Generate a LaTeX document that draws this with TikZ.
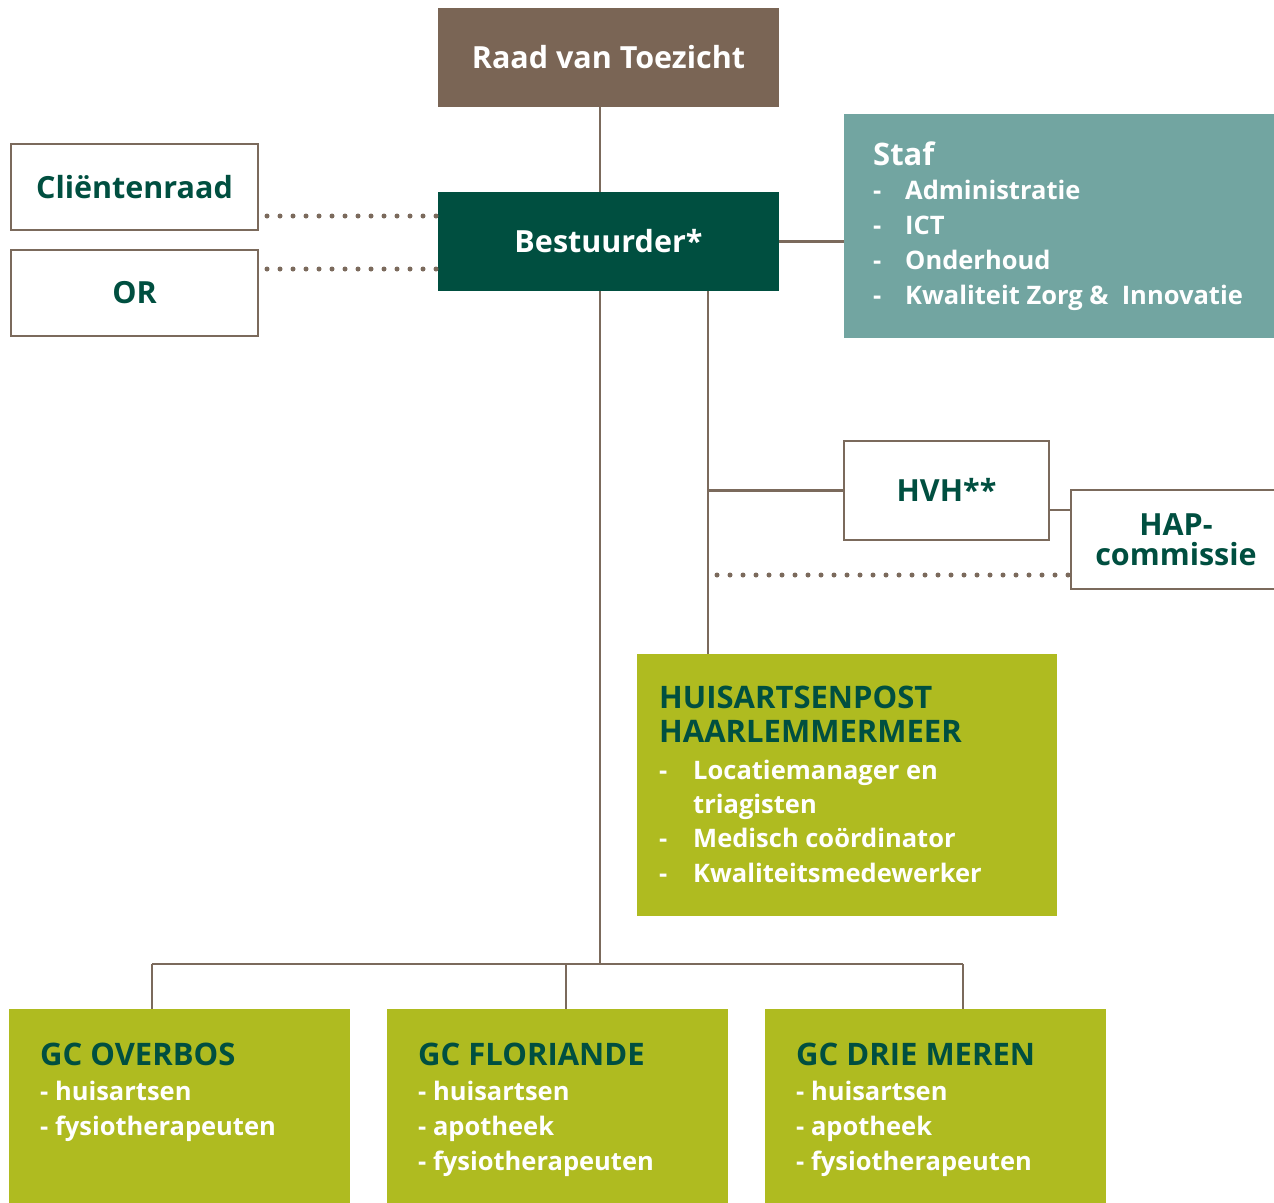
\documentclass[tikz,border=0pt]{standalone}
\usepackage{fontspec}
\setmainfont{Open Sans}
\definecolor{raadc}{HTML}{7A6555}
\definecolor{darkg}{HTML}{004F40}
\definecolor{tealc}{HTML}{72A5A1}
\definecolor{olive}{HTML}{AFBB20}
\definecolor{linec}{HTML}{7B6A5C}
\begin{document}
\begin{tikzpicture}[x=1pt,y=-1pt,
  solidbox/.style={draw=none,inner sep=0,outer sep=0,font=\bfseries\fontsize{30.5}{34}\selectfont,text=white},
  framebox/.style={draw=linec,line width=2.5pt,fill=white,inner sep=0,outer sep=0,font=\bfseries\fontsize{30.5}{34}\selectfont,text=darkg,align=center},
  conn/.style={draw=linec,line width=2.5pt},
  dotconn/.style={draw=linec,line width=5pt,line cap=round,dash pattern=on 0pt off 13pt},
  ttl/.style={anchor=base west,inner sep=0,font=\bfseries\fontsize{31}{34}\selectfont,text=darkg},
  itm/.style={anchor=base west,inner sep=0,font=\bfseries\fontsize{25.5}{30}\selectfont,text=white},
]
\useasboundingbox (0,0) rectangle (1274,1202);
\fill[white] (0,0) rectangle (1274,1202);

% connector coordinates
\coordinate (mx) at (600,0);
\coordinate (vx) at (708,0);
\coordinate (bus) at (600,964);
\coordinate (d1) at (152,964);
\coordinate (d2) at (566,964);
\coordinate (d3) at (963,964);
\coordinate (dcr) at (263,216);
\coordinate (dor) at (263,269);
\coordinate (hh) at (1049,510);
\coordinate (hd) at (712,575);

% boxes
\node[solidbox,fill=raadc,minimum width=341pt,minimum height=99pt] (raad) at (608.5,57.5) {\raisebox{2pt}{Raad van Toezicht}};
\node[solidbox,fill=darkg,minimum width=341pt,minimum height=99pt] (best) at (608.5,241.5) {Bestuurder*};
\node[framebox,minimum width=247pt,minimum height=86pt] (cr) at (134.5,187) {Cliëntenraad};
\node[framebox,minimum width=247pt,minimum height=86pt] (or) at (134.5,293) {\raisebox{-3pt}{OR}};
\node[solidbox,fill=tealc,minimum width=434pt,minimum height=224pt] (staf) at (1061,226) {};
\node[framebox,minimum width=205pt,minimum height=99pt] (hvh) at (946.5,490.5) {\raisebox{2pt}{HVH**}};
\node[framebox,minimum width=210pt,minimum height=99pt] (hap) at (1176,539.5) {HAP-\\[-4pt]commissie};
\node[solidbox,fill=olive,minimum width=420pt,minimum height=262pt] (hp) at (847,785) {};
\node[solidbox,fill=olive,minimum width=341pt,minimum height=200pt] (gc1) at (179.5,1109) {};
\node[solidbox,fill=olive,minimum width=341pt,minimum height=200pt] (gc2) at (557.5,1109) {};
\node[solidbox,fill=olive,minimum width=341pt,minimum height=200pt] (gc3) at (935.5,1109) {};

% staf text
\node[ttl,text=white] (stafh) at (873,165) {Staf};
\foreach \t [count=\i] in {Administratie,ICT,Onderhoud,{Kwaliteit Zorg \&\ \ Innovatie}} {
  \node[itm] (sd\i) at (873,164+35*\i) {-};
  \node[itm] (st\i) at (905,164+35*\i) {\t};
}
% huisartsenpost text
\node[ttl] (hpt1) at (659,708) {HUISARTSENPOST};
\node[ttl] (hpt2) at (659,742) {HAARLEMMERMEER};
\node[itm] (hpd1) at (659,779) {-};
\node[itm] (hpi1) at (693,779) {Locatiemanager en};
\node[itm] (hpi1b) at (693,813) {triagisten};
\node[itm] (hpd2) at (659,847) {-};
\node[itm] (hpi2) at (693,847) {Medisch coördinator};
\node[itm] (hpd3) at (659,882) {-};
\node[itm] (hpi3) at (693,882) {Kwaliteitsmedewerker};

% GC text
\node[ttl] (g1t) at (40,1065) {GC OVERBOS};
\node[itm] (g1a) at (40,1100) {- huisartsen};
\node[itm] (g1b) at (40,1135) {- fysiotherapeuten};
\node[ttl] (g2t) at (418,1065) {GC FLORIANDE};
\node[itm] (g2a) at (418,1100) {- huisartsen};
\node[itm] (g2b) at (418,1135) {- apotheek};
\node[itm] (g2c) at (418,1170) {- fysiotherapeuten};
\node[ttl] (g3t) at (796,1065) {GC DRIE MEREN};
\node[itm] (g3a) at (796,1100) {- huisartsen};
\node[itm] (g3b) at (796,1135) {- apotheek};
\node[itm] (g3c) at (796,1170) {- fysiotherapeuten};

\draw[conn] (raad.south -| mx) -- (best.north -| mx);
\draw[conn] (best.south -| mx) -- (bus);
\draw[conn] (d1) -- (d3);
\draw[conn] (d1) -- (d1 |- gc1.north);
\draw[conn] (d2) -- (d2 |- gc2.north);
\draw[conn] (d3) -- (d3 |- gc3.north);
\draw[conn] (best.east) -- (staf.west |- best.east);
\draw[conn] (best.south -| vx) -- (hp.north -| vx);
\draw[conn] (hvh.west -| vx) -- (hvh.west);
\draw[conn] (hh) -- (hh -| hap.west);
\draw[dotconn] ([xshift=-2pt]best.west |- dcr) -- (dcr);
\draw[dotconn] ([xshift=-2pt]best.west |- dor) -- (dor);
\draw[dotconn] ([xshift=-3pt]hap.west |- hd) -- (hd);
\end{tikzpicture}
\end{document}
